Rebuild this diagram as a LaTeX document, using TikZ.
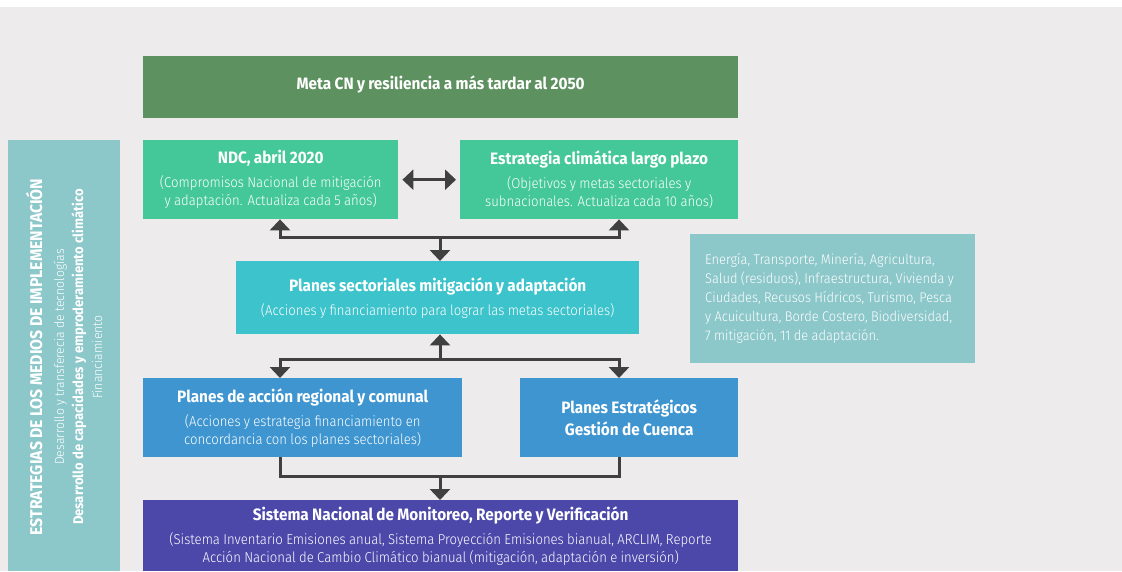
\documentclass[tikz,border=0pt]{standalone}
\usepackage{fontspec}
\setmainfont{Fira Sans}[FakeStretch=0.93]
\newfontfamily\lightfont{Fira Sans Light}[FakeStretch=0.92]
\usetikzlibrary{arrows.meta}

\definecolor{backgr}{RGB}{237,235,236}
\definecolor{metagreen}{RGB}{94,145,96}
\definecolor{ndcgreen}{RGB}{68,200,153}
\definecolor{sectcyan}{RGB}{60,195,203}
\definecolor{planblue}{RGB}{62,149,208}
\definecolor{mrvpurple}{RGB}{75,72,170}
\definecolor{sideteal}{RGB}{140,199,202}
\definecolor{arrowgray}{RGB}{64,64,64}

\newcommand{\boxhead}[1]{{\fontsize{16.5}{18}\selectfont\bfseries #1\par}\vspace{6pt}}
\newcommand{\boxnote}[1]{{\lightfont\fontsize{14.3}{18}\selectfont #1\par}}

\begin{document}
\begin{tikzpicture}[x=1pt,y=-1pt,>={Triangle[width=20pt,length=11pt]},
    box/.style={anchor=north west,inner sep=0pt,align=center,text=white},
    link/.style={line width=3pt,draw=arrowgray}]
    \fill[white] (0,0) rectangle (1122,571);
    \fill[backgr] (0,7) rectangle (1122,571);
    \useasboundingbox (0,0) rectangle (1122,571);

    \coordinate (hubA) at (440,237);
    \coordinate (hubB) at (440,359);
    \coordinate (hubC) at (440,476);
    \coordinate (colL) at (280,0);
    \coordinate (colR) at (619,0);

    \node[box,fill=metagreen,minimum width=595pt,minimum height=62pt,text width=595pt] (meta) at (143,56)
      {\boxhead{Meta CN y resiliencia a más tardar al 2050}};
    \node[box,fill=ndcgreen,minimum width=255pt,minimum height=79pt,text width=255pt] (ndc) at (143,140)
      {\boxhead{NDC, abril 2020}\boxnote{(Compromisos Nacional de mitigación\\y adaptación. Actualiza cada 5 años)}};
    \node[box,fill=ndcgreen,minimum width=278pt,minimum height=79pt,text width=278pt] (elp) at (460,140)
      {\boxhead{Estrategia climática largo plazo}\boxnote{(Objetivos y metas sectoriales y\\subnacionales. Actualiza cada 10 años)}};
    \node[box,fill=sectcyan,minimum width=403pt,minimum height=73pt,text width=403pt] (sect) at (236,261)
      {\boxhead{Planes sectoriales mitigación y adaptación}\boxnote{(Acciones y financiamiento para lograr las metas sectoriales)}};
    \node[box,fill=planblue,minimum width=319pt,minimum height=79pt,text width=319pt] (acc) at (143,378)
      {\boxhead{Planes de acción regional y comunal}\boxnote{(Acciones y estrategia financiamiento en\\concordancia con los planes sectoriales)}};
    \node[box,fill=planblue,minimum width=218pt,minimum height=79pt,text width=218pt] (pge) at (520,378)
      {{\fontsize{16.5}{22}\selectfont\bfseries Planes Estratégicos\\Gestión de Cuenca\par}};
    \node[box,fill=mrvpurple,minimum width=595pt,minimum height=71pt,text width=595pt] (mrv) at (143,500)
      {\boxhead{Sistema Nacional de Monitoreo, Reporte y Verificación}\boxnote{(Sistema Inventario Emisiones anual, Sistema Proyección Emisiones bianual, ARCLIM, Reporte\\Acción Nacional de Cambio Climático bianual (mitigación, adaptación e inversión)}};

    % side notes
    \node[box,fill=sideteal,minimum width=285pt,minimum height=129pt,text width=255pt,inner xsep=15pt,align=left] (sectors) at (690,234)
      {\lightfont\fontsize{14}{19}\selectfont Energía, Transporte, Minería, Agricultura,\\Salud (residuos), Infraestructura, Vivienda y\\Ciudades, Recusos Hídricos, Turismo, Pesca\\y Acuicultura, Borde Costero, Biodiversidad,\\7 mitigación, 11 de adaptación.\par};
    \fill[sideteal] (8,140) rectangle (120,571);
    \node[rotate=90,inner sep=0pt,align=center,text=white,text width=420pt] (means) at (64,357)
      {{\fontsize{17}{20}\selectfont\bfseries ESTRATEGIAS DE LOS MEDIOS DE IMPLEMENTACIÓN\par}\vspace{3pt}
       {\lightfont\fontsize{13.3}{19}\selectfont Desarrollo y transferecia de tecnologías\par}
       {\fontsize{14}{19}\selectfont\bfseries Desarrollo de capacidades y emproderamiento climático\par}
       {\lightfont\fontsize{13.3}{19}\selectfont Financiamiento\par}};

    \draw[link,<->,shorten <=4pt,shorten >=4pt] (ndc.east) -- (elp.west);
    \draw[link,->] (hubA) -| (ndc.south -| colL);
    \draw[link,->] (hubA) -| (elp.south -| colR);
    \draw[link,->] (hubA) -- (sect.north -| hubA);
    \draw[link,->] (hubB) -- (sect.south -| hubB);
    \draw[link,->] (hubB) -| (acc.north -| colL);
    \draw[link,->] (hubB) -| (pge.north -| colR);
    \draw[link] (acc.south -| colL) |- (hubC) -| (pge.south -| colR);
    \draw[link,->] (hubC) -- (mrv.north -| hubC);
\end{tikzpicture}
\end{document}
